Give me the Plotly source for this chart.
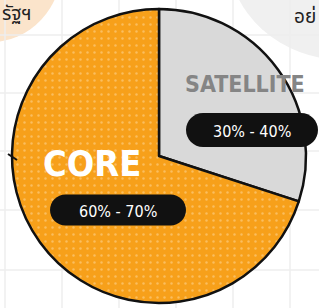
import plotly.graph_objects as go

# Data
segments = ["SATELLITE", "CORE"]
shares = [30, 70]
ranges = ["30% - 40%", "60% - 70%"]
seg_colors = ["#D9D9D9", "#F7A01A"]

W, H = 319, 308
fig = go.Figure()

fig.update_layout(
    width=W, height=H, margin=dict(l=0, r=0, t=0, b=0),
    paper_bgcolor="white", plot_bgcolor="rgba(0,0,0,0)",
    xaxis=dict(range=[0, W], visible=False, fixedrange=True),
    yaxis=dict(range=[H, 0], visible=False, fixedrange=True),
    showlegend=False,
)

shapes = []
shapes.append(dict(type="circle", xref="x", yref="y", x0=-80, y0=-110, x1=62, y1=42,
                   fillcolor="#FBE4CB", line=dict(width=0), layer="below"))
shapes.append(dict(type="circle", xref="x", yref="y", x0=228, y0=-150, x1=460, y1=60,
                   fillcolor="#F0F0F0", line=dict(width=0), layer="below"))
for gx in [5, 62, 119, 176, 233, 290]:
    shapes.append(dict(type="line", xref="x", yref="y", x0=gx, x1=gx, y0=0, y1=H,
                       line=dict(color="#EEEEEE", width=1.5), layer="below"))
for gy in [35, 93, 151, 210, 270]:
    shapes.append(dict(type="line", xref="x", yref="y", x0=0, x1=W, y0=gy, y1=gy,
                       line=dict(color="#EEEEEE", width=1.5), layer="below"))

def pill(cx, cy, w, h):
    r = h / 2
    k = 0.5523 * r
    x0, x1 = cx - w / 2, cx + w / 2
    y0, y1 = cy - h / 2, cy + h / 2
    xl, xr = x0 + r, x1 - r
    return (f"M {xl},{y0} L {xr},{y0} "
            f"C {xr+k},{y0} {x1},{cy-k} {x1},{cy} "
            f"C {x1},{cy+k} {xr+k},{y1} {xr},{y1} "
            f"L {xl},{y1} "
            f"C {xl-k},{y1} {x0},{cy+k} {x0},{cy} "
            f"C {x0},{cy-k} {xl-k},{y0} {xl},{y0} Z")

shapes.append(dict(type="path", xref="x", yref="y", path=pill(252, 130, 132, 34),
                   fillcolor="#111111", line=dict(width=0), layer="above"))
shapes.append(dict(type="path", xref="x", yref="y", path=pill(118, 210, 136, 31),
                   fillcolor="#111111", line=dict(width=0), layer="above"))
shapes.append(dict(type="line", xref="x", yref="y", x0=8, x1=17, y0=154, y1=160,
                   line=dict(color="#111111", width=2), layer="above"))
fig.update_layout(shapes=shapes)

cx, cy, R = 159, 156, 147
fig.add_trace(go.Pie(
    labels=segments, values=shares, sort=False, direction="clockwise", rotation=0,
    marker=dict(colors=seg_colors, line=dict(color="#111111", width=2.5),
                pattern=dict(shape=["", "."], bgcolor=seg_colors,
                             fgcolor=["#D9D9D9", "#FBBE5E"], size=7, solidity=0.1)),
    textinfo="none", hoverinfo="label+percent",
    domain=dict(x=[(cx - R) / W, (cx + R) / W], y=[(H - cy - R) / H, (H - cy + R) / H]),
))

ann = []
ann.append(dict(x=245, y=84, xref="x", yref="y", text="<b>SATELLITE</b>", showarrow=False,
                font=dict(family="DejaVu Sans Condensed", size=23, color="#858585")))
ann.append(dict(x=92, y=163, xref="x", yref="y", text="<b>CORE</b>", showarrow=False,
                font=dict(family="DejaVu Sans Condensed", size=36, color="white")))
ann.append(dict(x=252, y=131, xref="x", yref="y", text=ranges[0], showarrow=False,
                font=dict(family="DejaVu Sans Condensed", size=16, color="white")))
ann.append(dict(x=118, y=211, xref="x", yref="y", text=ranges[1], showarrow=False,
                font=dict(family="DejaVu Sans Condensed", size=16, color="white")))
ann.append(dict(x=0, y=14, xref="x", yref="y", text="รัฐฯ", showarrow=False, xanchor="left",
                font=dict(family="Noto Sans Thai, Noto Sans, DejaVu Sans", size=19, color="#222222")))
ann.append(dict(x=318, y=17, xref="x", yref="y", text="อย่", showarrow=False, xanchor="right",
                font=dict(family="Noto Sans Thai, Noto Sans, DejaVu Sans", size=19, color="#222222")))
fig.update_layout(annotations=ann)

fig.write_html("out.html", post_script="document.body.style.margin='0';",
               config={"displayModeBar": False})
